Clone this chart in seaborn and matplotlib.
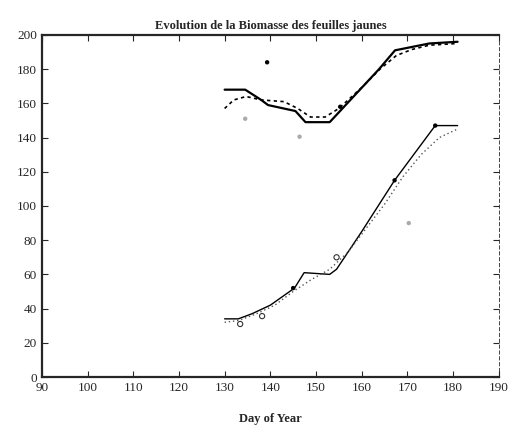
import matplotlib
matplotlib.use("Agg")
import matplotlib.pyplot as plt
import seaborn as sns
import pandas as pd

# Upper series (solid = simulated, dotted = smoothed)
upper_days = [130, 134.5, 138, 139.5, 145.5, 147.7, 153, 163.8, 167.3, 174.8, 181]
upper_vals = [168, 168, 162, 159, 155.5, 149, 149, 180, 191, 195, 196]
upper_smooth_days = [130, 132, 134.7, 138, 143, 146, 148.8, 152, 155, 160.3, 164, 167.6, 171, 174.8, 181]
upper_smooth_vals = [157, 162, 164, 162, 161, 157, 152, 152, 157, 170, 180, 188, 191.5, 194, 195]

# Lower series
lower_days = [130, 133, 136, 140, 145.3, 147.4, 153, 154.5, 160, 167.2, 176.1, 181]
lower_vals = [34, 34, 37, 42, 52, 61, 60, 63, 85, 115, 147, 147]
lower_smooth_days = [130, 133, 137, 141, 145, 149, 153, 157, 161, 165, 169, 173, 177, 181]
lower_smooth_vals = [32, 33, 37, 42, 50, 57, 63, 73, 87, 101, 117, 130, 140, 145]

# Observations
obs_dot_days = [139.3, 155.3, 145, 167.2, 176.1]
obs_dot_vals = [184, 158, 52, 115, 147]
obs_circle_days = [133.4, 138.2, 154.5]
obs_circle_vals = [31, 35.6, 70]
obs_faint_days = [134.5, 146.4, 170.3]
obs_faint_vals = [151, 140.5, 90]

sns.set_style("ticks")
plt.rcParams['font.family'] = ['Liberation Serif', 'DejaVu Serif']

fig = plt.figure(figsize=(5.11, 4.26), dpi=100)
ax = fig.add_axes([0.082, 0.115, 0.894, 0.803])

sns.lineplot(x=upper_days, y=upper_vals, ax=ax, color='black', linewidth=1.6, sort=False)
sns.lineplot(x=upper_smooth_days, y=upper_smooth_vals, ax=ax, color='black',
             linewidth=1.2, linestyle=(0, (2, 2)), sort=False)
sns.lineplot(x=lower_days, y=lower_vals, ax=ax, color='black', linewidth=1.0, sort=False)
sns.lineplot(x=lower_smooth_days, y=lower_smooth_vals, ax=ax, color='#555555',
             linewidth=1.0, linestyle=(0, (1, 2)), sort=False)

sns.scatterplot(x=obs_dot_days, y=obs_dot_vals, ax=ax, color='black', s=10, edgecolor='none')
sns.scatterplot(x=obs_circle_days, y=obs_circle_vals, ax=ax, s=14, facecolor='none',
                edgecolor='#333333', linewidth=0.8)
sns.scatterplot(x=obs_faint_days, y=obs_faint_vals, ax=ax, color='#aaaaaa', s=10, edgecolor='none')

ax.set_xlim(90, 190)
ax.set_ylim(0, 200)
ax.set_xticks(range(90, 191, 10))
ax.set_yticks(range(0, 201, 20))
ax.tick_params(direction='in', length=4, width=0.8, labelsize=9.5, top=True, right=True)
for side in ['left', 'bottom', 'top']:
    ax.spines[side].set_linewidth(1.6)
ax.spines['right'].set_linewidth(0.6)
ax.spines['right'].set_linestyle((0, (4, 3)))

ax.set_title('Evolution de la Biomasse des feuilles jaunes', fontsize=9,
             fontweight='bold', pad=4)
ax.set_xlabel('Day of Year', fontsize=9, fontweight='bold', labelpad=14)
ax.set_ylabel('')

fig.savefig('out.png', dpi=100)
